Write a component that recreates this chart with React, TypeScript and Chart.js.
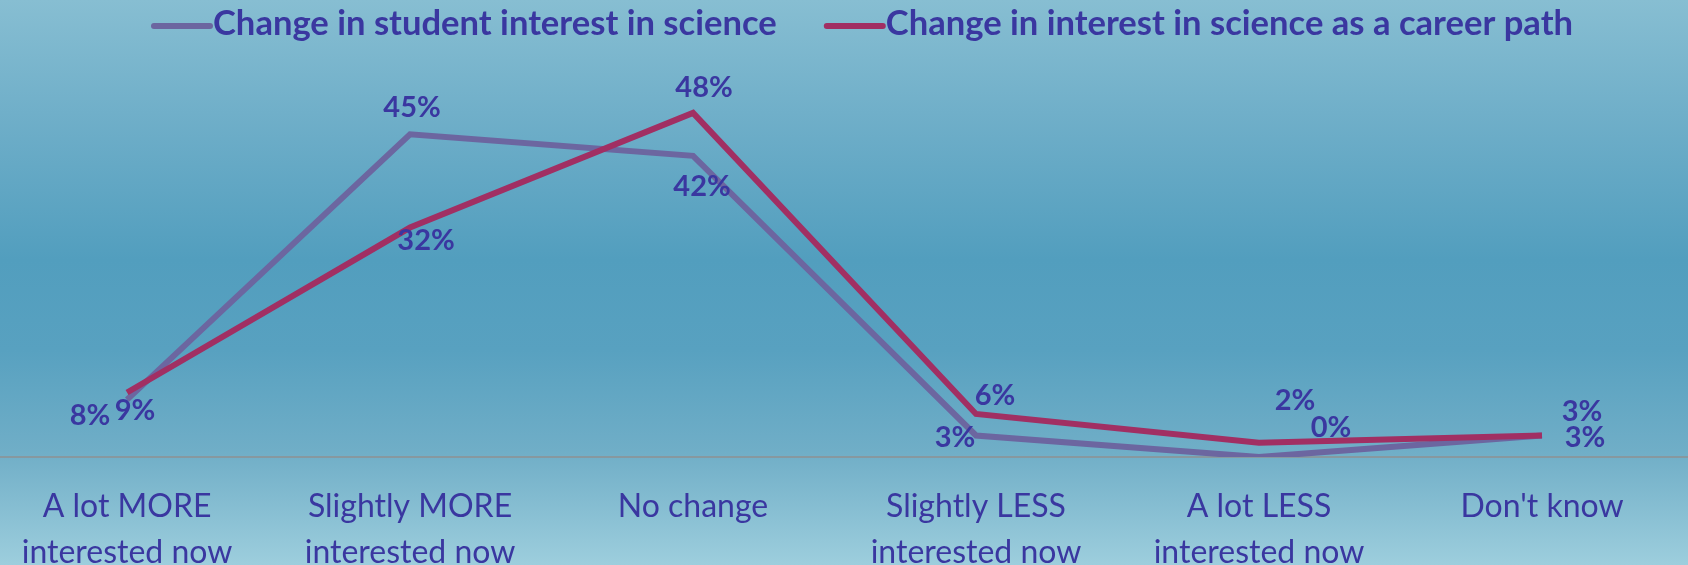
import React, { useEffect, useRef } from "react";
import { Chart, registerables } from "chart.js";

Chart.register(...registerables);

const CATEGORIES: string[][] = [
  ["A lot MORE", "interested now"],
  ["Slightly MORE", "interested now"],
  ["No change"],
  ["Slightly LESS", "interested now"],
  ["A lot LESS", "interested now"],
  ["Don't know"],
];

const SERIES_NAMES = [
  "Change in student interest in science",
  "Change in interest in science as a career path",
];

const STUDENT_INTEREST = [8, 45, 42, 3, 0, 3];
const CAREER_INTEREST = [9, 32, 48, 6, 2, 3];

// label offsets from the point (pixels), mimicking the original placement
const STUDENT_LABEL_OFFSETS = [
  [-37, 16],
  [2, -27],
  [9, 31],
  [-21, 2],
  [72, -29],
  [43, 2],
];
const CAREER_LABEL_OFFSETS = [
  [8, 18],
  [16, 13],
  [11, -25],
  [19, -18],
  [36, -42],
  [40, -24],
];

const TEXT_COLOR = "#3a37a0";
const PURPLE = "#6c66a0";
const RED = "#a12f63";
const FONT = "Lato";

export default function App() {
  const canvasRef = useRef<HTMLCanvasElement | null>(null);

  useEffect(() => {
    document.body.style.margin = "0";
    const canvas = canvasRef.current;
    if (!canvas) return;

    const labelPlugin = {
      id: "valueLabels",
      afterDatasetsDraw(chart: any) {
        const ctx = chart.ctx;
        ctx.save();
        ctx.font = `bold 29px ${FONT}`;
        ctx.fillStyle = TEXT_COLOR;
        ctx.textAlign = "center";
        ctx.textBaseline = "middle";
        chart.data.datasets.forEach((ds: any, di: number) => {
          const meta = chart.getDatasetMeta(di);
          const offs = ds.labelOffsets as number[][];
          meta.data.forEach((pt: any, i: number) => {
            const v = ds.data[i].y;
            const [dx, dy] = offs[i];
            ctx.fillText(`${v}%`, pt.x + dx, pt.y + dy);
          });
        });
        ctx.restore();
      },
    };

    const axisLinePlugin = {
      id: "axisLine",
      beforeDatasetsDraw(chart: any) {
        const ctx = chart.ctx;
        const y = chart.scales.y.getPixelForValue(0);
        ctx.save();
        ctx.strokeStyle = "#87989f";
        ctx.lineWidth = 2;
        ctx.beginPath();
        ctx.moveTo(0, y);
        ctx.lineTo(chart.width, y);
        ctx.stroke();
        ctx.restore();
      },
    };

    const legendPlugin = {
      id: "customLegend",
      afterDraw(chart: any) {
        const ctx = chart.ctx;
        ctx.save();
        ctx.font = `bold 34.6px ${FONT}`;
        ctx.textBaseline = "middle";
        ctx.textAlign = "left";
        const items = [
          { label: SERIES_NAMES[0], color: PURPLE },
          { label: SERIES_NAMES[1], color: RED },
        ];
        const gap = 50;
        const sample = 56;
        const widths = items.map((it) => sample + 3 + ctx.measureText(it.label).width);
        let x = 154;
        const y = 24;
        items.forEach((it, i) => {
          ctx.strokeStyle = it.color;
          ctx.lineWidth = 6;
          ctx.lineCap = "round";
          ctx.beginPath();
          ctx.moveTo(x, y + 2);
          ctx.lineTo(x + sample, y + 2);
          ctx.stroke();
          ctx.fillStyle = TEXT_COLOR;
          ctx.fillText(it.label, x + sample + 3, y);
          x += widths[i] + gap;
        });
        ctx.restore();
      },
    };

    const chart = new Chart(canvas, {
      type: "line",
      data: {
        datasets: [
          {
            label: SERIES_NAMES[0],
            data: STUDENT_INTEREST.map((v, i) => ({ x: i, y: v })),
            borderColor: PURPLE,
            backgroundColor: PURPLE,
            borderWidth: 6,
            pointRadius: 0,
            tension: 0,
            order: 1,
            labelOffsets: STUDENT_LABEL_OFFSETS,
          } as any,
          {
            label: SERIES_NAMES[1],
            data: CAREER_INTEREST.map((v, i) => ({ x: i, y: v })),
            borderColor: RED,
            backgroundColor: RED,
            borderWidth: 6,
            pointRadius: 0,
            tension: 0,
            order: 0,
            labelOffsets: CAREER_LABEL_OFFSETS,
          } as any,
        ],
      },
      options: {
        animation: false,
        responsive: false,
        maintainAspectRatio: false,
        layout: { padding: 0 },
        plugins: {
          legend: { display: false },
          tooltip: { enabled: false },
        },
        scales: {
          x: {
            type: "linear",
            min: -0.449,
            max: 5.516,
            grid: { display: false },
            border: { display: false },
            afterBuildTicks(scale: any) {
              scale.ticks = CATEGORIES.map((_, i) => ({ value: i }));
            },
            afterFit(scale: any) {
              scale.height = 108;
            },
            ticks: {
              autoSkip: false,
              maxRotation: 0,
              minRotation: 0,
              padding: 18,
              color: TEXT_COLOR,
              font: { family: FONT, size: 32, lineHeight: 1.45 },
              callback: (v: any) => CATEGORIES[Math.round(Number(v))] ?? "",
            },
          },
          y: {
            display: false,
            min: 0,
            max: 63.74,
          },
        },
      },
      plugins: [axisLinePlugin, labelPlugin, legendPlugin],
    });

    return () => chart.destroy();
  }, []);

  return (
    <div
      style={{
        width: 1688,
        height: 565,
        background:
          "linear-gradient(to bottom, rgb(135,190,210) 0%, rgb(112,175,201) 20%, rgb(82,158,190) 46%, rgb(88,161,192) 62%, rgb(112,174,199) 80%, rgb(157,206,221) 100%)",
      }}
    >
      <canvas ref={canvasRef} width={1688} height={565} />
    </div>
  );
}
